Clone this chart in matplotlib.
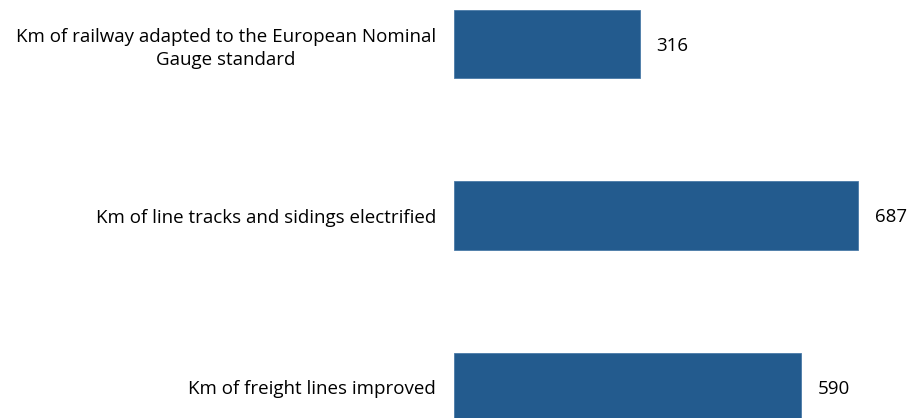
import matplotlib.pyplot as plt

categories = [
    "Km of railway adapted to the European Nominal\nGauge standard",
    "Km of line tracks and sidings electrified",
    "Km of freight lines improved",
]
values = [316, 687, 590]

plt.rcParams['font.family'] = ['Open Sans', 'DejaVu Sans']

fig = plt.figure(figsize=(9.11, 4.18), dpi=100)
ax = fig.add_axes([454 / 911, 0, 1 - 454 / 911, 1])

pos = list(range(len(categories)))
ax.barh(pos, values, height=0.4, color="#235b8e", edgecolor="#4a7aa8", linewidth=0.6)

for p, v in zip(pos, values):
    ax.text(v + 28, p + 0.01, str(v), va="center", ha="left", fontsize=13.5, color="black")

ax.set_yticks(pos)
ax.set_yticklabels(categories, fontsize=13.5, ha="right", multialignment="center",
                   linespacing=1.35)
ax.tick_params(axis="y", length=0, pad=13)
ax.set_xticks([])
ax.set_xlim(0, 777)
ax.set_ylim(2.181, -0.257)
for s in ax.spines.values():
    s.set_visible(False)

fig.savefig("out.png", dpi=100)
